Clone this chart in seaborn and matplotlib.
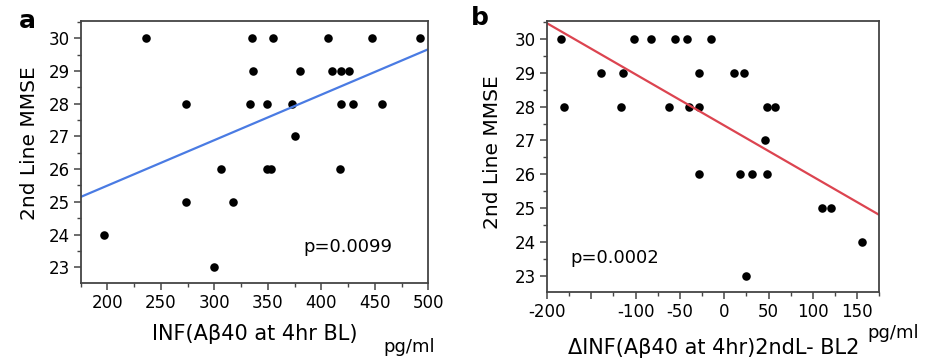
import numpy as np
import pandas as pd
import seaborn as sns
import matplotlib.pyplot as plt
from matplotlib.ticker import MultipleLocator, FixedLocator

# panel a: INF(Abeta40 at 4hr BL) vs 2nd line MMSE
inf_bl = [236, 335, 355, 406, 447, 492,
          336, 380, 410, 418, 426,
          273, 333, 349, 373, 418, 430, 457,
          375,
          306, 349, 353, 417,
          273, 317,
          197,
          300]
mmse_a = [30] * 6 + [29] * 5 + [28] * 7 + [27] + [26] * 4 + [25] * 2 + [24] + [23]

# panel b: change of INF between 2nd line and BL2 vs 2nd line MMSE
delta_inf = [-184, -102, -83, -56, -42, -15,
             -139, -114, -28, 11, 22,
             -181, -117, -62, -40, -28, 48, 57,
             46,
             -29, 18, 31, 48,
             110, 121,
             155,
             24]
mmse_b = [30] * 6 + [29] * 5 + [28] * 7 + [27] + [26] * 4 + [25] * 2 + [24] + [23]

yticks = [23, 24, 25, 26, 27, 28, 29, 30]
xticks_a = [200, 250, 300, 350, 400, 450, 500]
xticks_b = [-200, -150, -100, -50, 0, 50, 100, 150]
xticklabels_b = ["-200", "", "-100", "-50", "0", "50", "100", "150"]

sns.set_style("ticks")
plt.rcParams["font.family"] = ["DejaVu Sans"]
plt.rcParams["axes.unicode_minus"] = False
plt.rcParams["axes.edgecolor"] = "#444444"
plt.rcParams["axes.linewidth"] = 1.3
plt.rcParams["text.color"] = "black"
plt.rcParams["xtick.labelcolor"] = "black"
plt.rcParams["ytick.labelcolor"] = "black"

fig = plt.figure(figsize=(9.33, 3.6), dpi=100)
ax1 = fig.add_axes([0.0865, 0.2139, 0.3726, 0.729])
ax2 = fig.add_axes([0.5863, 0.1897, 0.3562, 0.752])

df_a = pd.DataFrame({"inf": inf_bl, "mmse": mmse_a})
df_b = pd.DataFrame({"dinf": delta_inf, "mmse": mmse_b})

ax1.set_xlim(175, 500)
ax2.set_xlim(-200, 175)

sns.regplot(data=df_a, x="inf", y="mmse", ax=ax1, ci=None, truncate=False,
            scatter_kws={"s": 38, "color": "black", "linewidths": 0, "alpha": 1},
            line_kws={"color": "#4a7be3", "lw": 1.6})
sns.regplot(data=df_b, x="dinf", y="mmse", ax=ax2, ci=None, truncate=False,
            scatter_kws={"s": 38, "color": "black", "linewidths": 0, "alpha": 1},
            line_kws={"color": "#dc4450", "lw": 1.6})

for ax in (ax1, ax2):
    ax.set_ylim(22.52, 30.54)
    ax.yaxis.set_major_locator(FixedLocator(yticks))
    ax.yaxis.set_minor_locator(MultipleLocator(0.5))
    ax.xaxis.set_minor_locator(MultipleLocator(25))
    ax.tick_params(which="major", length=5, width=1.1, color="#444444",
                   labelcolor="black", labelsize=12, pad=3)
    ax.tick_params(which="minor", length=3, width=1.0, color="#444444")
    ax.set_xlabel("")
    ax.set_ylabel("")
    for s in ax.spines.values():
        s.set_visible(True)

ax1.set_xlim(175, 500)
ax1.set_xticks(xticks_a)
ax2.set_xlim(-200, 175)
ax2.set_xticks(xticks_b)
ax2.set_xticklabels(xticklabels_b)

ax1.text(0.64, 0.137, "p=0.0099", transform=ax1.transAxes, fontsize=13, va="center")
ax2.text(0.069, 0.1245, "p=0.0002", transform=ax2.transAxes, fontsize=13, va="center")

fig.text(0.2733, 0.072, "INF(Aβ40 at 4hr BL)", fontsize=15, ha="center", va="center")
fig.text(0.4105, 0.036, "pg/ml", fontsize=13, ha="left", va="center")
fig.text(0.7653, 0.033, "ΔINF(Aβ40 at 4hr)2ndL- BL2", fontsize=15, ha="center", va="center")
fig.text(0.9293, 0.075, "pg/ml", fontsize=13, ha="left", va="center")

fig.text(0.032, 0.603, "2nd Line MMSE", fontsize=14.5, rotation=90, ha="center", va="center")
fig.text(0.528, 0.578, "2nd Line MMSE", fontsize=14.5, rotation=90, ha="center", va="center")

fig.text(0.0295, 0.943, "a", fontsize=18, fontweight="bold", ha="center", va="center")
fig.text(0.5145, 0.949, "b", fontsize=18, fontweight="bold", ha="center", va="center")

fig.savefig("out.png", dpi=100)
